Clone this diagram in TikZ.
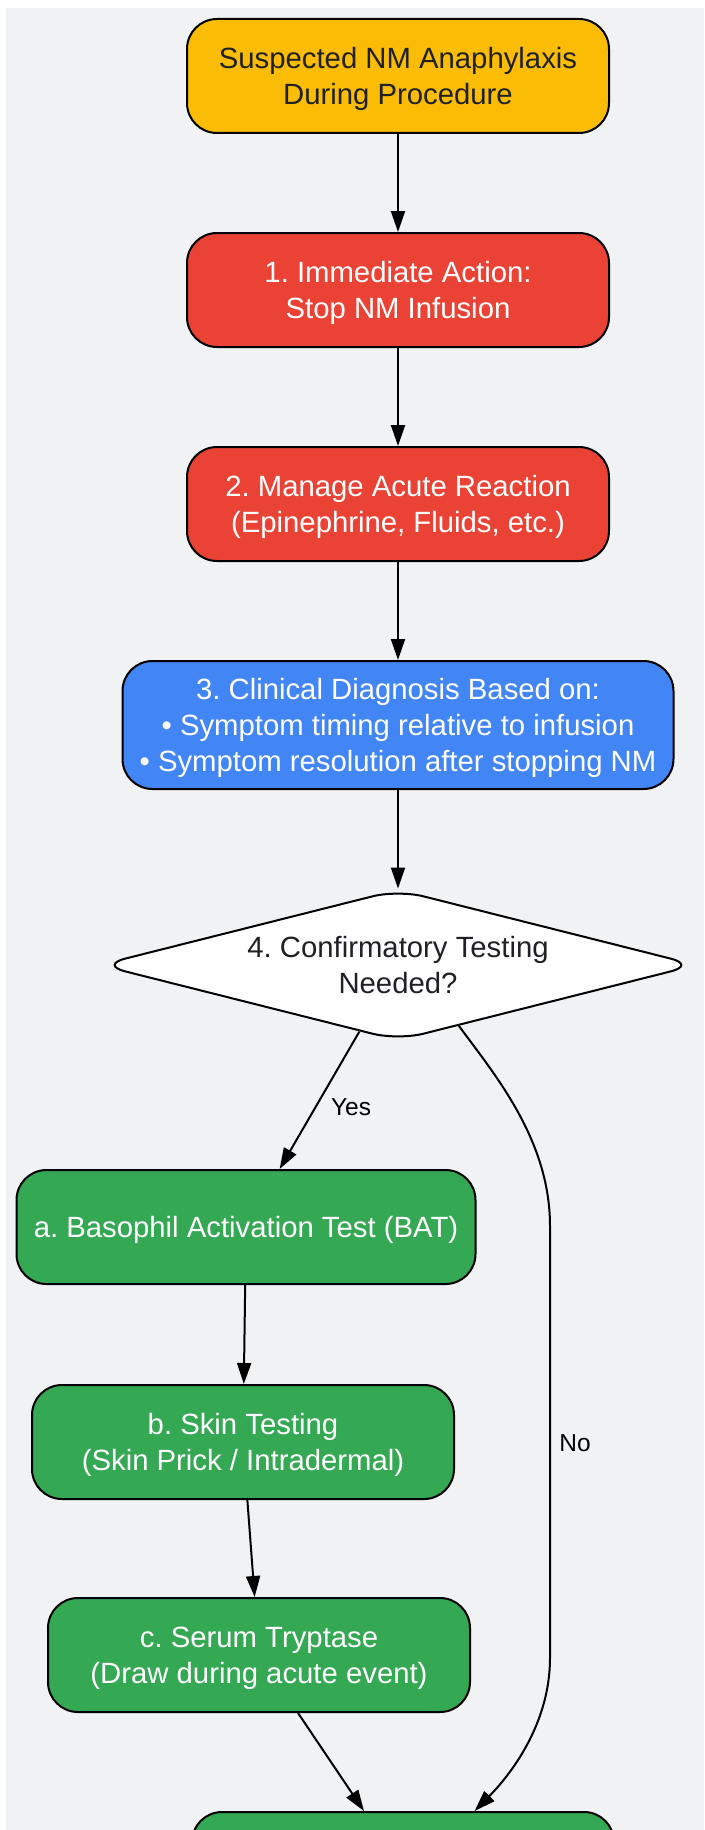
\documentclass[tikz,border=0pt]{standalone}
\usepackage{fontspec}
\setmainfont{Liberation Sans}
\usetikzlibrary{arrows.meta,shapes.geometric}
\definecolor{bggray}{HTML}{F1F2F4}
\definecolor{gyellow}{HTML}{FBBC05}
\definecolor{gred}{HTML}{EA4335}
\definecolor{gblue}{HTML}{4285F4}
\definecolor{ggreen}{HTML}{34A853}
\definecolor{darktext}{HTML}{202124}
\frenchspacing
\begin{document}
\begin{tikzpicture}[x=1pt,y=-1pt,
  box/.style={draw=black, line width=2pt, rounded corners=30pt,
    minimum width=422pt, minimum height=114pt, inner sep=0pt,
    align=center, text=white, text depth=0pt, font=\fontsize{29.3}{36}\selectfont},
  yellowbox/.style={box, fill=gyellow, text=darktext},
  redbox/.style={box, fill=gred},
  bluebox/.style={box, fill=gblue, minimum width=551pt, minimum height=128pt},
  greenbox/.style={box, fill=ggreen},
  decision/.style={diamond, aspect=3.9, draw=black, line width=2pt, fill=white,
    rounded corners=26pt, minimum width=597pt, minimum height=151pt,
    inner sep=0pt, align=center, text=darktext, text depth=0pt,
    font=\fontsize{29.3}{36}\selectfont},
  edge/.style={draw=black, line width=2pt, -{Triangle[length=21pt,width=14pt]}},
  lbl/.style={text=black, font=\fontsize{24.5}{30}\selectfont, inner sep=0pt, anchor=base}
]
\useasboundingbox (0,0) rectangle (704,1830);
\fill[bggray] (6,8) rectangle (704,1830);

\node[yellowbox] (n0) at (398,76) {Suspected NM Anaphylaxis\\During Procedure};
\node[redbox] (n1) at (398,290) {1. Immediate Action:\\Stop NM Infusion};
\node[redbox] (n2) at (398,504) {2. Manage Acute Reaction\\(Epinephrine, Fluids, etc.)};
\node[bluebox] (n3) at (398,725) {3. Clinical Diagnosis Based on:\\\textbullet{} Symptom timing relative to infusion\\\textbullet{} Symptom resolution after stopping NM};
\node[decision] (d) at (398,965) {4. Confirmatory Testing\\Needed?};
\node[greenbox, minimum width=459pt] (a) at (246,1227) {a. Basophil Activation Test (BAT)};
\node[greenbox] (b) at (243,1442) {b. Skin Testing\\(Skin Prick / Intradermal)};
\node[greenbox] (c) at (259,1655) {c. Serum Tryptase\\(Draw during acute event)};
\node[greenbox] (e) at (403,1869) {};

\draw[edge] (n0) -- (n1);
\draw[edge] (n1) -- (n2);
\draw[edge] (n2) -- (n3);
\draw[edge] (n3) -- (d);
\draw[edge] (d) -- (a);
\node[lbl] (yes) at (351,1115) {Yes};
\draw[edge] (a) -- (b);
\draw[edge] (b) -- (c);
\draw[edge] (c) -- (e);
\draw[edge] (d.-45) .. controls (495,1075) and (550,1140) .. (550,1226)
  -- (550,1658) .. controls (550,1720) and (515,1770) .. (e.39);
\node[lbl] (no) at (575,1451) {No};
\end{tikzpicture}
\end{document}
